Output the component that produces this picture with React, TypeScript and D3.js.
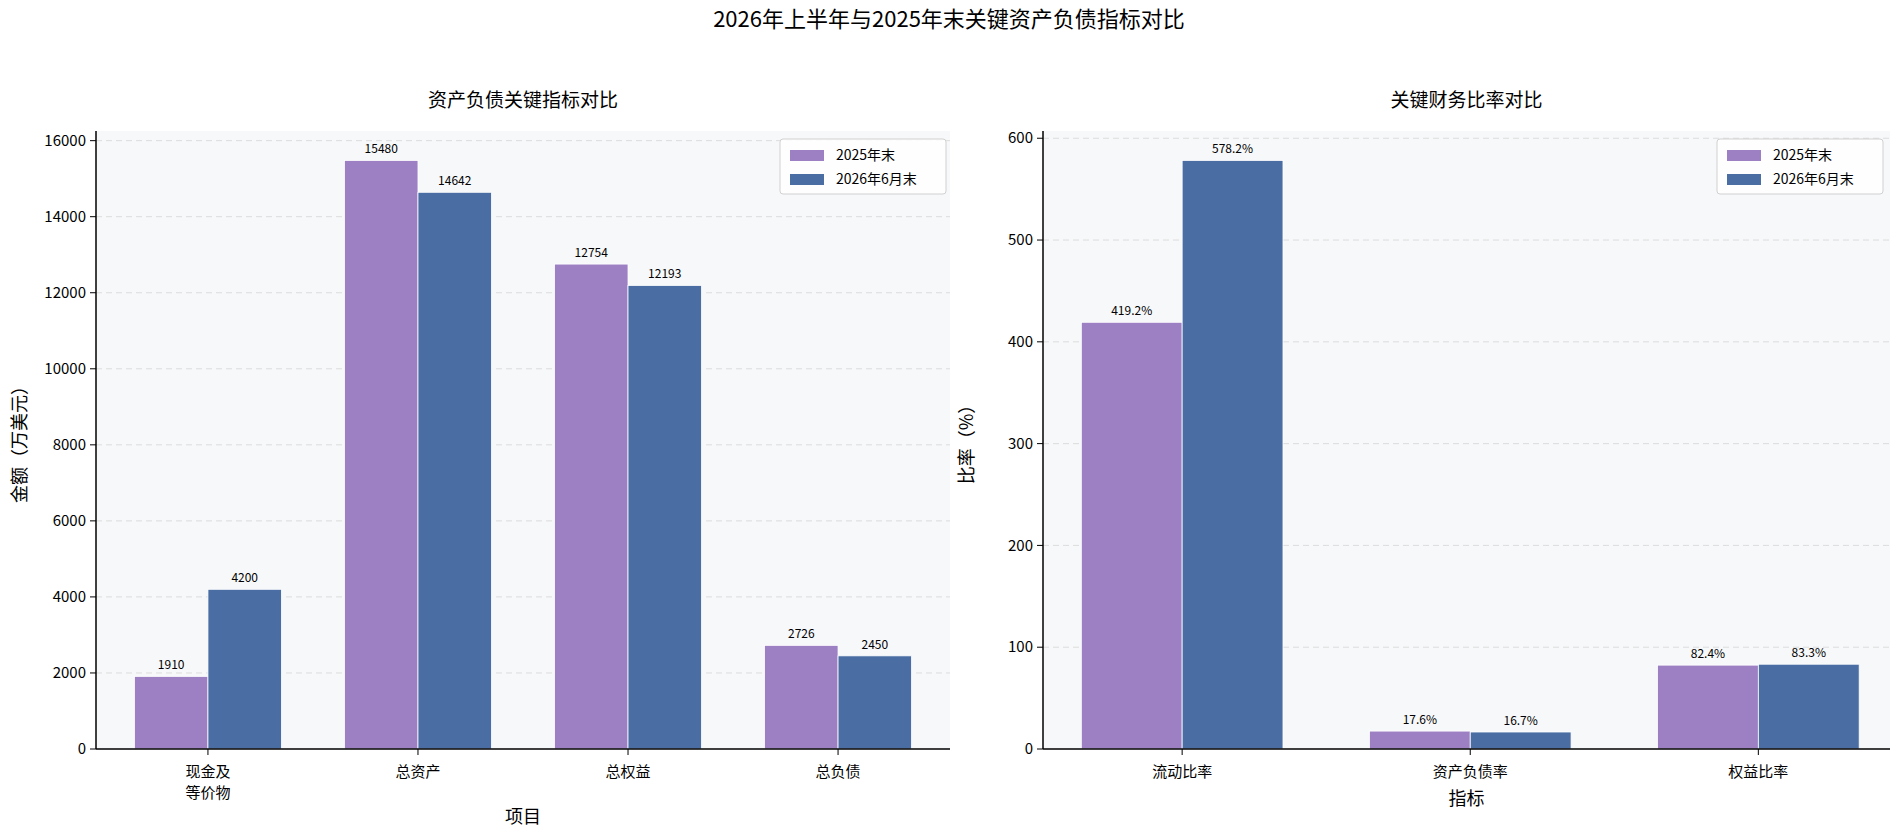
import React from "react";
import * as d3 from "d3";

const leftCats = ["现金及\n等价物", "总资产", "总权益", "总负债"];
const left2025 = [1910, 15480, 12754, 2726];
const left2026 = [4200, 14642, 12193, 2450];
const rightCats = ["流动比率", "资产负债率", "权益比率"];
const right2025 = [419.2, 17.6, 82.4];
const right2026 = [578.2, 16.7, 83.3];
const leftTicks = [0, 2000, 4000, 6000, 8000, 10000, 12000, 14000, 16000];
const rightTicks = [0, 100, 200, 300, 400, 500, 600];
const seriesNames = ["2025年末", "2026年6月末"];
const colors = ["#9d80c3", "#4a6ea3"];
const FONT = "'Noto Sans CJK SC', 'DejaVu Sans', sans-serif";

type PanelProps = {
  x0: number; x1: number; xDomain: [number, number]; cats: string[];
  a: number[]; b: number[]; ticks: number[]; yMax: number; fmt: (v: number) => string;
  title: string; xLabel: string; yLabel: string; legendX: number; xLabelY: number;
};

function Panel(p: PanelProps) {
  const top = 131, bottom = 749;
  const x = d3.scaleLinear().domain(p.xDomain).range([p.x0, p.x1]);
  const y = d3.scaleLinear().domain([0, p.yMax]).range([bottom, top]);
  const w = 0.35;
  const bw = x(w) - x(0);
  return (
    <g fontFamily={FONT}>
      <rect x={p.x0} y={top} width={p.x1 - p.x0} height={bottom - top} fill="#f7f8fa" />
      {p.ticks.map((t) => (
        <g key={t}>
          {t > 0 && <line x1={p.x0} x2={p.x1} y1={y(t)} y2={y(t)} stroke="#dcdcdc" strokeDasharray="6,4" />}
          <line x1={p.x0 - 6} x2={p.x0} y1={y(t)} y2={y(t)} stroke="#000" />
          <text x={p.x0 - 10} y={y(t)} dy="0.35em" textAnchor="end" fontSize={15}>{t}</text>
        </g>
      ))}
      {[p.a, p.b].map((s, si) => s.map((v, i) => {
        const bx = si === 0 ? x(i - w) : x(i);
        return (
          <g key={si + "-" + i}>
            <rect x={bx} y={y(v)} width={bw} height={bottom - y(v)} fill={colors[si]} stroke="#fff" strokeWidth={0.8} />
            <text x={bx + bw / 2} y={y(v) - 7} textAnchor="middle" fontSize={12}>{p.fmt(v)}</text>
          </g>
        );
      }))}
      <line x1={p.x0} x2={p.x0} y1={top} y2={bottom} stroke="#000" strokeWidth={1.5} />
      <line x1={p.x0} x2={p.x1} y1={bottom} y2={bottom} stroke="#000" strokeWidth={1.5} />
      {p.cats.map((c, i) => (
        <g key={c}>
          <line x1={x(i)} x2={x(i)} y1={bottom} y2={bottom + 6} stroke="#000" />
          {c.split("\n").map((l, k) => (
            <text key={k} x={x(i)} y={772 + k * 21} dy="0.35em" textAnchor="middle" fontSize={15}>{l}</text>
          ))}
        </g>
      ))}
      <text x={(p.x0 + p.x1) / 2} y={100} dy="0.35em" textAnchor="middle" fontSize={19}>{p.title}</text>
      <text x={(p.x0 + p.x1) / 2} y={p.xLabelY} dy="0.35em" textAnchor="middle" fontSize={18}>{p.xLabel}</text>
      <text transform={`translate(${p.x0 - 76},${(top + bottom) / 2}) rotate(-90)`} dy="0.35em" textAnchor="middle" fontSize={18}>{p.yLabel}</text>
      <g transform={`translate(${p.legendX},139)`}>
        <rect width={166} height={55} rx={3} fill="#fff" fillOpacity={0.85} stroke="#d0d0d0" />
        {seriesNames.map((n, i) => (
          <g key={n} transform={`translate(10,${16 + i * 24})`}>
            <rect x={0} y={-5} width={34} height={11} fill={colors[i]} />
            <text x={46} dy="0.35em" fontSize={14}>{n}</text>
          </g>
        ))}
      </g>
    </g>
  );
}

export default function App() {
  return (
    <svg width={1898} height={836} style={{ display: "block", margin: "-8px" }}>
      <rect width={1898} height={836} fill="#fff" />
      <text x={949} y={19} dy="0.35em" textAnchor="middle" fontSize={22} fontFamily={FONT}>2026年上半年与2025年末关键资产负债指标对比</text>
      <Panel x0={96} x1={950} xDomain={[-0.533, 3.533]} cats={leftCats} a={left2025} b={left2026}
        ticks={leftTicks} yMax={15480 * 1.05} fmt={(v) => String(v)} title="资产负债关键指标对比"
        xLabel="项目" yLabel="金额（万美元）" legendX={780} xLabelY={817} />
      <Panel x0={1043} x1={1890} xDomain={[-0.483, 2.457]} cats={rightCats} a={right2025} b={right2026}
        ticks={rightTicks} yMax={578.2 * 1.05} fmt={(v) => v.toFixed(1) + "%"} title="关键财务比率对比"
        xLabel="指标" yLabel="比率（%）" legendX={1717} xLabelY={799} />
    </svg>
  );
}
